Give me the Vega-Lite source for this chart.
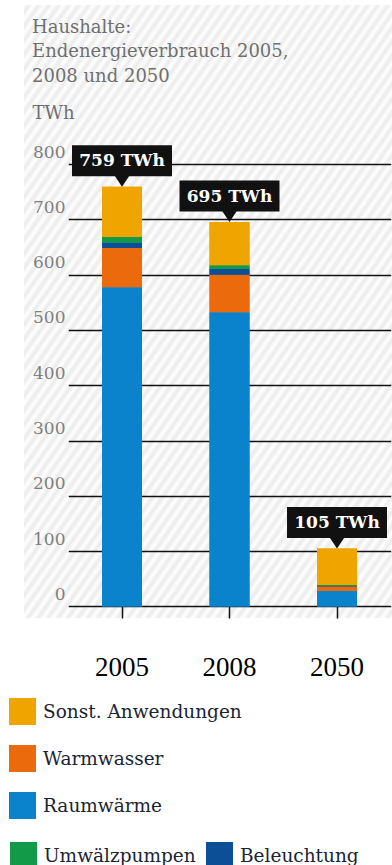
{
  "$schema": "https://vega.github.io/schema/vega-lite/v6.json",
  "autosize": {"type": "none"},
  "padding": {"left": 24, "top": 5, "right": 0, "bottom": 247},
  "width": 368,
  "height": 613,
  "background": "#ffffff",
  "title": {
    "text": ["Haushalte:", "Endenergieverbrauch 2005,", "2008 und 2050"],
    "anchor": "start",
    "frame": "group",
    "orient": "top",
    "font": "DejaVu Serif",
    "fontSize": 18,
    "fontWeight": "normal",
    "color": "#6f6f6f",
    "lineHeight": 24.5,
    "baseline": "top",
    "offset": 0,
    "dx": 8,
    "dy": 80.5
  },
  "data": {
    "values": [
      {"year": "2005", "category": "Raumwärme", "value": 577},
      {"year": "2005", "category": "Warmwasser", "value": 71},
      {"year": "2005", "category": "Beleuchtung", "value": 10},
      {"year": "2005", "category": "Umwälzpumpen", "value": 10},
      {"year": "2005", "category": "Sonst. Anwendungen", "value": 91},
      {"year": "2008", "category": "Raumwärme", "value": 532},
      {"year": "2008", "category": "Warmwasser", "value": 68},
      {"year": "2008", "category": "Beleuchtung", "value": 10},
      {"year": "2008", "category": "Umwälzpumpen", "value": 7},
      {"year": "2008", "category": "Sonst. Anwendungen", "value": 78},
      {"year": "2050", "category": "Raumwärme", "value": 28},
      {"year": "2050", "category": "Warmwasser", "value": 8},
      {"year": "2050", "category": "Beleuchtung", "value": 1},
      {"year": "2050", "category": "Umwälzpumpen", "value": 2},
      {"year": "2050", "category": "Sonst. Anwendungen", "value": 66}
    ]
  },
  "transform": [
    {"calculate": "indexof(['Raumwärme', 'Warmwasser', 'Beleuchtung', 'Umwälzpumpen', 'Sonst. Anwendungen'], datum.category)", "as": "stackOrder"}
  ],
  "encoding": {
    "x": {
      "field": "year",
      "type": "nominal",
      "sort": ["2005", "2008", "2050"],
      "scale": {"type": "band", "range": [44.25, 366.75], "paddingInner": 0, "paddingOuter": 0},
      "axis": {
        "title": null,
        "orient": "bottom",
        "offset": -11.5,
        "domain": false,
        "ticks": true,
        "tickSize": 11.5,
        "tickColor": "#111111",
        "tickWidth": 1.5,
        "grid": false,
        "labelAngle": 0,
        "labelFont": "Liberation Serif",
        "labelFontSize": 27,
        "labelColor": "#000000",
        "labelBaseline": "alphabetic",
        "labelPadding": 57
      }
    }
  },
  "layer": [
    {
      "mark": {"type": "bar", "width": {"band": 0.372}},
      "encoding": {
        "y": {
          "field": "value",
          "type": "quantitative",
          "stack": "zero",
          "scale": {"domain": [-20.8, 1087.5], "nice": false, "zero": false},
          "axis": {
            "orient": "left",
            "offset": -41,
            "values": [0, 100, 200, 300, 400, 500, 600, 700, 800],
            "domain": false,
            "ticks": false,
            "grid": true,
            "gridColor": "#111111",
            "gridWidth": 1.5,
            "labelPadding": 0,
            "labelAlign": "right",
            "labelBaseline": "alphabetic",
            "labelOffset": -7,
            "labelFont": "DejaVu Serif",
            "labelFontSize": 17,
            "labelColor": "#7f7f7f",
            "title": "TWh",
            "titleAngle": 0,
            "titleX": -33,
            "titleY": 113,
            "titleAlign": "left",
            "titleBaseline": "alphabetic",
            "titleFont": "DejaVu Serif",
            "titleFontSize": 18,
            "titleFontWeight": "normal",
            "titleColor": "#6f6f6f"
          }
        },
        "order": {"field": "stackOrder", "type": "quantitative", "sort": "ascending"},
        "color": {
          "field": "category",
          "type": "nominal",
          "scale": {
            "domain": ["Raumwärme", "Warmwasser", "Beleuchtung", "Umwälzpumpen", "Sonst. Anwendungen"],
            "range": ["#0a83cc", "#eb6a0c", "#0c4f96", "#139a48", "#efa400"]
          },
          "legend": {
            "values": ["Sonst. Anwendungen", "Warmwasser", "Raumwärme"],
            "orient": "none",
            "legendX": -15,
            "legendY": 693,
            "direction": "vertical",
            "title": null,
            "padding": 0,
            "rowPadding": 20,
            "symbolType": "square",
            "symbolSize": 729,
            "symbolStrokeWidth": 0,
            "labelFont": "DejaVu Serif",
            "labelFontSize": 18.5,
            "labelColor": "#1a2433",
            "labelOffset": 7,
            "labelLimit": 0
          }
        }
      }
    },
    {
      "mark": {"type": "bar", "width": {"band": 0.372}},
      "encoding": {
        "y": {"field": "value", "type": "quantitative", "stack": "zero"},
        "order": {"field": "stackOrder", "type": "quantitative", "sort": "ascending"},
        "fill": {
          "field": "category",
          "type": "nominal",
          "scale": {
            "domain": ["Umwälzpumpen", "Beleuchtung", "Raumwärme", "Warmwasser", "Sonst. Anwendungen"],
            "range": ["#139a48", "#0c4f96", "#0a83cc", "#eb6a0c", "#efa400"]
          },
          "legend": {
            "values": ["Umwälzpumpen", "Beleuchtung"],
            "orient": "none",
            "legendX": -14,
            "legendY": 837,
            "direction": "horizontal",
            "title": null,
            "padding": 0,
            "columnPadding": 10,
            "symbolType": "square",
            "symbolSize": 729,
            "symbolStrokeWidth": 0,
            "labelFont": "DejaVu Serif",
            "labelFontSize": 18.5,
            "labelColor": "#1a2433",
            "labelOffset": 7,
            "labelLimit": 0
          }
        }
      }
    },
    {
      "transform": [
        {"aggregate": [{"op": "sum", "field": "value", "as": "total"}], "groupby": ["year"]},
        {"calculate": "datum.total + ' TWh'", "as": "label"}
      ],
      "layer": [
        {
          "mark": {
            "type": "point",
            "shape": "M0,0L-0.14,-0.21L-1,-0.21L-1,-0.83L1,-0.83L1,-0.21L0.14,-0.21Z",
            "size": 10000,
            "filled": true,
            "fill": "#111111",
            "opacity": 1,
            "strokeWidth": 0
          },
          "encoding": {
            "y": {"field": "total", "type": "quantitative"}
          }
        },
        {
          "mark": {
            "type": "text",
            "dy": -25.5,
            "align": "center",
            "baseline": "middle",
            "font": "DejaVu Serif",
            "fontSize": 17,
            "fontWeight": "bold",
            "color": "#ffffff"
          },
          "encoding": {
            "y": {"field": "total", "type": "quantitative"},
            "text": {"field": "label", "type": "nominal"}
          }
        }
      ]
    }
  ],
  "config": {
    "font": "DejaVu Serif",
    "view": {
      "stroke": null,
      "fill": {
        "gradient": "linear",
        "x1": 0, "y1": 0, "x2": 0.9172, "y2": 1.0709,
        "stops": [
          {"offset": 0, "color": "#ffffff"}, {"offset": 0.00625, "color": "#ebebeb"}, {"offset": 0.0125, "color": "#ffffff"}, {"offset": 0.01875, "color": "#ebebeb"},
          {"offset": 0.025, "color": "#ffffff"}, {"offset": 0.03125, "color": "#ebebeb"}, {"offset": 0.0375, "color": "#ffffff"}, {"offset": 0.04375, "color": "#ebebeb"},
          {"offset": 0.05, "color": "#ffffff"}, {"offset": 0.05625, "color": "#ebebeb"}, {"offset": 0.0625, "color": "#ffffff"}, {"offset": 0.06875, "color": "#ebebeb"},
          {"offset": 0.075, "color": "#ffffff"}, {"offset": 0.08125, "color": "#ebebeb"}, {"offset": 0.0875, "color": "#ffffff"}, {"offset": 0.09375, "color": "#ebebeb"},
          {"offset": 0.1, "color": "#ffffff"}, {"offset": 0.10625, "color": "#ebebeb"}, {"offset": 0.1125, "color": "#ffffff"}, {"offset": 0.11875, "color": "#ebebeb"},
          {"offset": 0.125, "color": "#ffffff"}, {"offset": 0.13125, "color": "#ebebeb"}, {"offset": 0.1375, "color": "#ffffff"}, {"offset": 0.14375, "color": "#ebebeb"},
          {"offset": 0.15, "color": "#ffffff"}, {"offset": 0.15625, "color": "#ebebeb"}, {"offset": 0.1625, "color": "#ffffff"}, {"offset": 0.16875, "color": "#ebebeb"},
          {"offset": 0.175, "color": "#ffffff"}, {"offset": 0.18125, "color": "#ebebeb"}, {"offset": 0.1875, "color": "#ffffff"}, {"offset": 0.19375, "color": "#ebebeb"},
          {"offset": 0.2, "color": "#ffffff"}, {"offset": 0.20625, "color": "#ebebeb"}, {"offset": 0.2125, "color": "#ffffff"}, {"offset": 0.21875, "color": "#ebebeb"},
          {"offset": 0.225, "color": "#ffffff"}, {"offset": 0.23125, "color": "#ebebeb"}, {"offset": 0.2375, "color": "#ffffff"}, {"offset": 0.24375, "color": "#ebebeb"},
          {"offset": 0.25, "color": "#ffffff"}, {"offset": 0.25625, "color": "#ebebeb"}, {"offset": 0.2625, "color": "#ffffff"}, {"offset": 0.26875, "color": "#ebebeb"},
          {"offset": 0.275, "color": "#ffffff"}, {"offset": 0.28125, "color": "#ebebeb"}, {"offset": 0.2875, "color": "#ffffff"}, {"offset": 0.29375, "color": "#ebebeb"},
          {"offset": 0.3, "color": "#ffffff"}, {"offset": 0.30625, "color": "#ebebeb"}, {"offset": 0.3125, "color": "#ffffff"}, {"offset": 0.31875, "color": "#ebebeb"},
          {"offset": 0.325, "color": "#ffffff"}, {"offset": 0.33125, "color": "#ebebeb"}, {"offset": 0.3375, "color": "#ffffff"}, {"offset": 0.34375, "color": "#ebebeb"},
          {"offset": 0.35, "color": "#ffffff"}, {"offset": 0.35625, "color": "#ebebeb"}, {"offset": 0.3625, "color": "#ffffff"}, {"offset": 0.36875, "color": "#ebebeb"},
          {"offset": 0.375, "color": "#ffffff"}, {"offset": 0.38125, "color": "#ebebeb"}, {"offset": 0.3875, "color": "#ffffff"}, {"offset": 0.39375, "color": "#ebebeb"},
          {"offset": 0.4, "color": "#ffffff"}, {"offset": 0.40625, "color": "#ebebeb"}, {"offset": 0.4125, "color": "#ffffff"}, {"offset": 0.41875, "color": "#ebebeb"},
          {"offset": 0.425, "color": "#ffffff"}, {"offset": 0.43125, "color": "#ebebeb"}, {"offset": 0.4375, "color": "#ffffff"}, {"offset": 0.44375, "color": "#ebebeb"},
          {"offset": 0.45, "color": "#ffffff"}, {"offset": 0.45625, "color": "#ebebeb"}, {"offset": 0.4625, "color": "#ffffff"}, {"offset": 0.46875, "color": "#ebebeb"},
          {"offset": 0.475, "color": "#ffffff"}, {"offset": 0.48125, "color": "#ebebeb"}, {"offset": 0.4875, "color": "#ffffff"}, {"offset": 0.49375, "color": "#ebebeb"},
          {"offset": 0.5, "color": "#ffffff"}, {"offset": 0.50625, "color": "#ebebeb"}, {"offset": 0.5125, "color": "#ffffff"}, {"offset": 0.51875, "color": "#ebebeb"},
          {"offset": 0.525, "color": "#ffffff"}, {"offset": 0.53125, "color": "#ebebeb"}, {"offset": 0.5375, "color": "#ffffff"}, {"offset": 0.54375, "color": "#ebebeb"},
          {"offset": 0.55, "color": "#ffffff"}, {"offset": 0.55625, "color": "#ebebeb"}, {"offset": 0.5625, "color": "#ffffff"}, {"offset": 0.56875, "color": "#ebebeb"},
          {"offset": 0.575, "color": "#ffffff"}, {"offset": 0.58125, "color": "#ebebeb"}, {"offset": 0.5875, "color": "#ffffff"}, {"offset": 0.59375, "color": "#ebebeb"},
          {"offset": 0.6, "color": "#ffffff"}, {"offset": 0.60625, "color": "#ebebeb"}, {"offset": 0.6125, "color": "#ffffff"}, {"offset": 0.61875, "color": "#ebebeb"},
          {"offset": 0.625, "color": "#ffffff"}, {"offset": 0.63125, "color": "#ebebeb"}, {"offset": 0.6375, "color": "#ffffff"}, {"offset": 0.64375, "color": "#ebebeb"},
          {"offset": 0.65, "color": "#ffffff"}, {"offset": 0.65625, "color": "#ebebeb"}, {"offset": 0.6625, "color": "#ffffff"}, {"offset": 0.66875, "color": "#ebebeb"},
          {"offset": 0.675, "color": "#ffffff"}, {"offset": 0.68125, "color": "#ebebeb"}, {"offset": 0.6875, "color": "#ffffff"}, {"offset": 0.69375, "color": "#ebebeb"},
          {"offset": 0.7, "color": "#ffffff"}, {"offset": 0.70625, "color": "#ebebeb"}, {"offset": 0.7125, "color": "#ffffff"}, {"offset": 0.71875, "color": "#ebebeb"},
          {"offset": 0.725, "color": "#ffffff"}, {"offset": 0.73125, "color": "#ebebeb"}, {"offset": 0.7375, "color": "#ffffff"}, {"offset": 0.74375, "color": "#ebebeb"},
          {"offset": 0.75, "color": "#ffffff"}, {"offset": 0.75625, "color": "#ebebeb"}, {"offset": 0.7625, "color": "#ffffff"}, {"offset": 0.76875, "color": "#ebebeb"},
          {"offset": 0.775, "color": "#ffffff"}, {"offset": 0.78125, "color": "#ebebeb"}, {"offset": 0.7875, "color": "#ffffff"}, {"offset": 0.79375, "color": "#ebebeb"},
          {"offset": 0.8, "color": "#ffffff"}, {"offset": 0.80625, "color": "#ebebeb"}, {"offset": 0.8125, "color": "#ffffff"}, {"offset": 0.81875, "color": "#ebebeb"},
          {"offset": 0.825, "color": "#ffffff"}, {"offset": 0.83125, "color": "#ebebeb"}, {"offset": 0.8375, "color": "#ffffff"}, {"offset": 0.84375, "color": "#ebebeb"},
          {"offset": 0.85, "color": "#ffffff"}, {"offset": 0.85625, "color": "#ebebeb"}, {"offset": 0.8625, "color": "#ffffff"}, {"offset": 0.86875, "color": "#ebebeb"},
          {"offset": 0.875, "color": "#ffffff"}, {"offset": 0.88125, "color": "#ebebeb"}, {"offset": 0.8875, "color": "#ffffff"}, {"offset": 0.89375, "color": "#ebebeb"},
          {"offset": 0.9, "color": "#ffffff"}, {"offset": 0.90625, "color": "#ebebeb"}, {"offset": 0.9125, "color": "#ffffff"}, {"offset": 0.91875, "color": "#ebebeb"},
          {"offset": 0.925, "color": "#ffffff"}, {"offset": 0.93125, "color": "#ebebeb"}, {"offset": 0.9375, "color": "#ffffff"}, {"offset": 0.94375, "color": "#ebebeb"},
          {"offset": 0.95, "color": "#ffffff"}, {"offset": 0.95625, "color": "#ebebeb"}, {"offset": 0.9625, "color": "#ffffff"}, {"offset": 0.96875, "color": "#ebebeb"},
          {"offset": 0.975, "color": "#ffffff"}, {"offset": 0.98125, "color": "#ebebeb"}, {"offset": 0.9875, "color": "#ffffff"}, {"offset": 0.99375, "color": "#ebebeb"},
          {"offset": 1, "color": "#ffffff"}
        ]
      }
    }
  }
}
